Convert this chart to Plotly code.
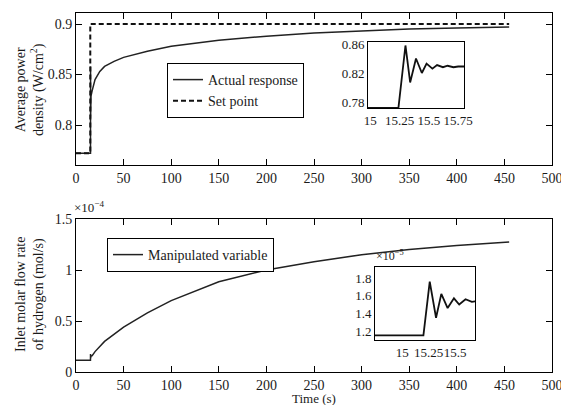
import plotly.graph_objects as go

# --- data ---
time_power = [0, 15.24, 15.30, 15.34, 15.39, 15.44, 15.48, 15.53, 15.57, 15.62, 15.66, 15.71,
              15.75, 15.8, 17, 20, 25, 30, 40, 50, 75, 100, 150, 200, 250, 300, 350, 400, 455]
power_density = [0.772, 0.772, 0.858, 0.807, 0.840, 0.820, 0.833, 0.826, 0.831, 0.828, 0.830, 0.828,
                  0.829, 0.829, 0.834, 0.845, 0.853, 0.858, 0.863, 0.867, 0.873, 0.878, 0.884, 0.888,
                  0.891, 0.893, 0.895, 0.896, 0.897]

time_setpoint = [0, 15, 15, 455]
setpoint = [0.772, 0.772, 0.9, 0.9]

time_h2 = [0, 15.2, 15.26, 15.32, 15.37, 15.43, 15.49, 15.54, 15.6, 15.66, 15.72, 17, 20, 30,
           50, 75, 100, 150, 200, 250, 300, 350, 400, 455]
# inlet molar flow of hydrogen, mol/s
h2_flow = [1.15e-5, 1.15e-5, 1.76e-5, 1.35e-5, 1.62e-5, 1.46e-5, 1.57e-5, 1.50e-5, 1.56e-5,
           1.53e-5, 1.54e-5, 1.6e-5, 2.0e-5, 3.0e-5, 4.4e-5, 5.8e-5, 7.0e-5, 8.85e-5, 10.0e-5,
           10.8e-5, 11.5e-5, 12.0e-5, 12.4e-5, 12.75e-5]

W, H = 569, 405
OFF = 8  # page body margin pushes the figure 8px right and down
FONT = "Liberation Serif"
INK = "#1a1a1a"


def fx(p):
    return (p - OFF) / W


def fy(p):
    return 1 - (p - OFF) / H


fig = go.Figure()

fig.add_trace(go.Scatter(x=time_power, y=power_density, mode="lines", name="Actual response",
                         line=dict(color="#222", width=1.5), xaxis="x", yaxis="y", legend="legend"))
fig.add_trace(go.Scatter(x=time_setpoint, y=setpoint, mode="lines", name="Set point",
                         line=dict(color="#111", width=2, dash="5px,3px"), xaxis="x", yaxis="y",
                         legend="legend"))
fig.add_trace(go.Scatter(x=time_h2, y=[v * 1e4 for v in h2_flow], mode="lines",
                         name="Manipulated variable", line=dict(color="#222", width=1.5),
                         xaxis="x2", yaxis="y2", legend="legend2"))
# insets
fig.add_trace(go.Scatter(x=time_power, y=power_density, mode="lines", showlegend=False,
                         line=dict(color="#111", width=1.8), xaxis="x3", yaxis="y3"))
fig.add_trace(go.Scatter(x=time_h2, y=[v * 1e5 for v in h2_flow], mode="lines", showlegend=False,
                         line=dict(color="#111", width=1.8), xaxis="x4", yaxis="y4"))

main_ax = dict(showline=True, linecolor="black", linewidth=1, mirror="ticks", ticks="inside",
               ticklen=6, tickcolor="black", showgrid=False, zeroline=False, tickangle=0,
               tickfont=dict(family=FONT, size=14, color=INK), automargin=False)
inset_ax = dict(showline=True, linecolor="black", linewidth=1, mirror=True, ticks="",
                showgrid=False, zeroline=False, tickangle=0,
                tickfont=dict(family=FONT, size=13, color=INK), automargin=False)

fig.update_layout(
    width=W, height=H,
    margin=dict(l=0, r=0, t=0, b=0),
    paper_bgcolor="white", plot_bgcolor="white",
    font=dict(family=FONT, color=INK),
    xaxis=dict(main_ax, domain=[fx(76), fx(552)], range=[0, 500], dtick=50, anchor="y"),
    yaxis=dict(main_ax, domain=[fy(165), fy(13)], range=[0.7604, 0.9109],
               tickvals=[0.8, 0.85, 0.9], anchor="x"),
    xaxis2=dict(main_ax, domain=[fx(76), fx(552)], range=[0, 500], dtick=50, anchor="y2"),
    yaxis2=dict(main_ax, domain=[fy(372), fy(219)], range=[0, 1.5],
                tickvals=[0, 0.5, 1, 1.5], anchor="x2"),
    xaxis3=dict(inset_ax, domain=[fx(368), fx(464)], range=[14.98, 15.8],
                tickvals=[15, 15.25, 15.5, 15.75], anchor="y3"),
    yaxis3=dict(inset_ax, domain=[fy(108), fy(42)], range=[0.7717, 0.8628],
                tickvals=[0.78, 0.82, 0.86], anchor="x3"),
    xaxis4=dict(inset_ax, domain=[fx(375), fx(475)], range=[14.74, 15.69],
                tickvals=[15, 15.25, 15.5], anchor="y4"),
    yaxis4=dict(inset_ax, domain=[fy(340), fy(267)], range=[1.098, 1.925],
                tickvals=[1.2, 1.4, 1.6, 1.8], anchor="x4"),
    legend=dict(x=fx(167), y=fy(63), xanchor="left", yanchor="top",
                bordercolor="black", borderwidth=1, bgcolor="white",
                font=dict(family=FONT, size=14, color=INK), tracegroupgap=0),
    legend2=dict(x=fx(107), y=fy(238), xanchor="left", yanchor="top",
                 bordercolor="black", borderwidth=1, bgcolor="white",
                 font=dict(family=FONT, size=14, color=INK)),
)

annots = [
    dict(text="Average power<br>density (W/cm<sup>2</sup>)", x=fx(30), y=fy(90), textangle=-90,
         size=14),
    dict(text="Inlet molar flow rate<br>of hydrogen (mol/s)", x=fx(30), y=fy(295), textangle=-90,
         size=14),
    dict(text="Time (s)", x=fx(314), y=fy(408), yanchor="bottom", size=13),
    dict(text="×10<sup>−4</sup>", x=fx(72), y=fy(217), xanchor="left", yanchor="bottom", size=13),
    dict(text="×10<sup>−5</sup>", x=fx(374), y=fy(265), xanchor="left", yanchor="bottom", size=12),
]
for a in annots:
    size = a.pop("size")
    a.setdefault("xanchor", "center")
    a.setdefault("yanchor", "middle")
    fig.add_annotation(xref="paper", yref="paper", showarrow=False,
                       font=dict(family=FONT, color=INK, size=size), **a)

fig.write_html("out.html")
